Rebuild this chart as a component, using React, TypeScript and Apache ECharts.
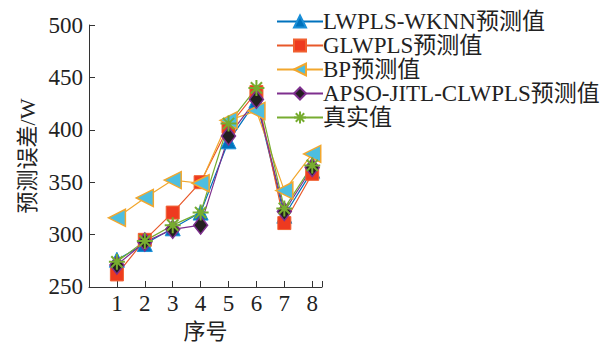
import React, { useEffect, useRef } from "react";
import * as echarts from "echarts";

// Sample index (x) and model outputs (y, W)
const samples = [1, 2, 3, 4, 5, 6, 7, 8];
const lwplsWknn = [276, 291, 306, 321, 389, 428, 318, 361];
const glwpls = [262, 295, 321, 350, 403, 436, 311, 358];
const bp = [316, 335, 352, 349, 409, 418, 342, 377];
const apso = [271, 293, 305, 309, 394, 429, 322, 364];
const truth = [274, 294, 309, 321, 406, 440, 325, 366];

const yTicks = [250, 300, 350, 400, 450, 500];

const seriesNames = [
  "LWPLS-WKNN预测值",
  "GLWPLS预测值",
  "BP预测值",
  "APSO-JITL-CLWPLS预测值",
  "真实值",
];

const FONT = "'Liberation Serif', 'Times New Roman', 'Noto Sans CJK SC', serif";
const ASTERISK = "path://M0,-10L0,10M-10,0L10,0M-7,-7L7,7M-7,7L7,-7";

const pairs = (ys: number[]) => samples.map((x, i) => [x, ys[i]]);

export default function App() {
  const ref = useRef<HTMLDivElement>(null);

  useEffect(() => {
    if (!ref.current) return;
    const chart = echarts.init(ref.current, undefined, { renderer: "svg" });
    const axisLine = { show: true, lineStyle: { color: "#333", width: 1 } };
    chart.setOption({
      animation: false,
      backgroundColor: "#fff",
      textStyle: { fontFamily: FONT },
      grid: { left: 89, right: 294, top: 25, bottom: 57 },
      legend: {
        orient: "vertical",
        left: 271,
        top: 5,
        itemWidth: 46,
        itemHeight: 15,
        itemGap: 1,
        textStyle: { fontFamily: FONT, fontSize: 23, color: "#222", lineHeight: 23, padding: [0, 0, 0, -5] },
        data: seriesNames,
      },
      xAxis: {
        type: "value",
        min: 0,
        max: 8.35,
        interval: 1,
        name: "序号",
        nameLocation: "middle",
        nameGap: 33,
        nameTextStyle: { fontFamily: FONT, fontSize: 22, color: "#222" },
        axisLine,
        axisTick: { show: true, inside: true, length: 6, lineStyle: { color: "#333" } },
        axisLabel: {
          fontFamily: FONT,
          fontSize: 23,
          color: "#222",
          margin: 5,
          formatter: (v: number) => (v >= 1 && Number.isInteger(v) ? String(v) : ""),
        },
        splitLine: { show: false },
      },
      yAxis: {
        type: "value",
        min: yTicks[0],
        max: yTicks[yTicks.length - 1],
        interval: 50,
        name: "预测误差/W",
        nameLocation: "middle",
        nameGap: 51,
        nameTextStyle: { fontFamily: FONT, fontSize: 22, color: "#222" },
        axisLine,
        axisTick: { show: true, inside: true, length: 6, lineStyle: { color: "#333" } },
        axisLabel: { fontFamily: FONT, fontSize: 23, color: "#222", margin: 6 },
        splitLine: { show: false },
      },
      series: [
        {
          name: seriesNames[0],
          type: "line",
          data: pairs(lwplsWknn),
          symbol: "triangle",
          symbolSize: 15,
          lineStyle: { color: "#0072BD", width: 1.2 },
          itemStyle: { color: "#0072BD", borderColor: "#1a8fd8", borderWidth: 1 },
        },
        {
          name: seriesNames[1],
          type: "line",
          data: pairs(glwpls),
          symbol: "rect",
          symbolSize: 13,
          lineStyle: { color: "#E8582A", width: 1.2 },
          itemStyle: { color: "#EE3A1F", borderColor: "#F06030", borderWidth: 1 },
        },
        {
          name: seriesNames[2],
          type: "line",
          data: pairs(bp),
          symbol: "triangle",
          symbolRotate: 90,
          symbolSize: 17,
          lineStyle: { color: "#F2A72E", width: 1.2 },
          itemStyle: { color: "#4DBEE0", borderColor: "#F2A72E", borderWidth: 1.5 },
        },
        {
          name: seriesNames[3],
          type: "line",
          data: pairs(apso),
          symbol: "diamond",
          symbolSize: [14, 18],
          lineStyle: { color: "#7E2F8E", width: 1.2 },
          itemStyle: { color: "#231F20", borderColor: "#7E2F8E", borderWidth: 1.5 },
        },
        {
          name: seriesNames[4],
          type: "line",
          data: pairs(truth),
          symbol: ASTERISK,
          symbolSize: 16,
          lineStyle: { color: "#77AC30", width: 1.2 },
          itemStyle: { color: "none", borderColor: "#77AC30", borderWidth: 2 },
        },
      ],
    });
    return () => chart.dispose();
  }, []);

  return (
    <div
      ref={ref}
      style={{ position: "absolute", left: 0, top: 0, width: 616, height: 347 }}
    />
  );
}
